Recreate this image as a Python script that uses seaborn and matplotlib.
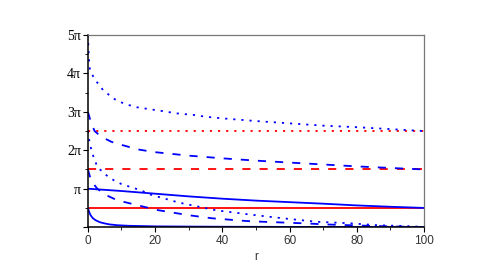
import numpy as np
import matplotlib
matplotlib.use('Agg')
import matplotlib.pyplot as plt
import seaborn as sns
from matplotlib.ticker import MultipleLocator

# curve values in units of pi
r_solid_hi = [0, 10, 20, 30, 40, 50, 60, 70, 80, 90, 100]
solid_hi = [1.0, 0.94, 0.87, 0.80, 0.74, 0.69, 0.65, 0.61, 0.565, 0.53, 0.5]

r_solid_lo = [0, 0.4, 0.8, 1.5, 2.3, 3.5, 4.8, 6.5, 8.7, 12, 20, 30, 40, 60, 80, 100]
solid_lo = [0.5, 0.39, 0.31, 0.23, 0.18, 0.13, 0.10, 0.07, 0.05, 0.035, 0.02, 0.014, 0.01, 0.006, 0.003, 0.0]

r_dash_hi = [0, 0.5, 1, 2, 4, 7, 10, 15, 20, 30, 40, 50, 60, 70, 80, 90, 100]
dash_hi = [3.0, 2.85, 2.7, 2.5, 2.35, 2.22, 2.14, 2.02, 1.95, 1.86, 1.79, 1.73, 1.68, 1.63, 1.58, 1.54, 1.5]

r_dash_lo = [0, 1, 2.8, 5, 8.7, 15.7, 21, 30, 37, 47, 52, 64, 71, 85, 100]
dash_lo = [1.5, 1.2, 1.0, 0.85, 0.7, 0.55, 0.44, 0.31, 0.23, 0.16, 0.14, 0.10, 0.07, 0.03, 0.0]

r_dot_hi = [0, 0.15, 0.3, 0.6, 2.1, 3.6, 4.6, 6.0, 7.5, 9.5, 12, 14.5, 19, 21.4, 26.4, 31.3, 35.3, 40, 50, 60, 70, 80, 90, 100]
dot_hi = [5.0, 4.7, 4.4, 4.09, 3.83, 3.68, 3.55, 3.46, 3.35, 3.26, 3.18, 3.12, 3.06, 3.03, 2.96, 2.92, 2.87, 2.83, 2.76, 2.7, 2.64, 2.6, 2.55, 2.5]

r_dot_lo = [0, 0.5, 1.3, 2.8, 5, 7.7, 10, 15.7, 18.5, 27, 38, 48, 58, 68, 78, 86, 97, 100]
dot_lo = [2.5, 2.2, 1.92, 1.57, 1.38, 1.22, 1.12, 0.96, 0.85, 0.64, 0.44, 0.33, 0.23, 0.14, 0.10, 0.05, 0.02, 0.0]

r_flat = [0, 100]
red_levels = [0.5, 1.5, 2.5]

x_ticks = [0, 20, 40, 60, 80, 100]
y_tick_labels = ['', 'π', '2π', '3π', '4π', '5π']

sns.set_style("white")
plt.rcParams['font.family'] = ['Liberation Serif', 'DejaVu Serif']
sans = ['Liberation Sans', 'DejaVu Sans']

fig, ax = plt.subplots(figsize=(4.91, 2.73), dpi=100)
fig.subplots_adjust(left=0.179, right=0.8635, top=0.872, bottom=0.168)

lw = 1.3
dot = (1.2, 3.3)
dash = (4.5, 5.0)

for level, st in zip(red_levels, [None, dash, dot]):
    sns.lineplot(x=r_flat, y=[level * np.pi] * 2, color='#ff0000', lw=lw, ax=ax)
    if st is not None:
        ax.lines[-1].set_dashes(st)

curves = [
    (r_solid_hi, solid_hi, None),
    (r_solid_lo, solid_lo, None),
    (r_dash_hi, dash_hi, dash),
    (r_dash_lo, dash_lo, dash),
    (r_dot_hi, dot_hi, dot),
    (r_dot_lo, dot_lo, dot),
]
for rr, vals, st in curves:
    sns.lineplot(x=rr, y=np.array(vals) * np.pi, color='#0000ff', lw=lw, ax=ax)
    if st is not None:
        ax.lines[-1].set_dashes(st)

ax.set_xlim(0, 100)
ax.set_ylim(0, 5 * np.pi)
ax.set_xticks(x_ticks)
ax.set_xticklabels([str(v) for v in x_ticks], family=sans)
ax.xaxis.set_minor_locator(MultipleLocator(10))
ax.set_yticks([k * np.pi for k in range(6)])
ax.set_yticklabels(y_tick_labels)
ax.yaxis.set_minor_locator(MultipleLocator(np.pi / 2))
ax.tick_params(axis='x', which='major', labelsize=8.5, labelcolor='#333333', length=3.5, width=0.8,
               color='black', direction='out', bottom=True, pad=2)
ax.tick_params(axis='x', which='minor', length=2.2, width=0.6, color='black', direction='out', bottom=True)
ax.tick_params(axis='y', which='major', labelsize=10, labelcolor='black', length=3.5, width=0.8,
               color='black', direction='out', left=True, pad=1.5)
ax.tick_params(axis='y', which='minor', length=2.2, width=0.6, color='black', direction='out', left=True)

ax.set_xlabel('r', fontsize=8.5, labelpad=3, family=sans, color='#333333')
ax.set_ylabel('')

for side in ['left', 'bottom']:
    ax.spines[side].set_color('black')
    ax.spines[side].set_linewidth(1.1)
for side in ['top', 'right']:
    ax.spines[side].set_color('#777777')
    ax.spines[side].set_linewidth(0.9)

plt.savefig('out.png', dpi=100)
plt.close()
